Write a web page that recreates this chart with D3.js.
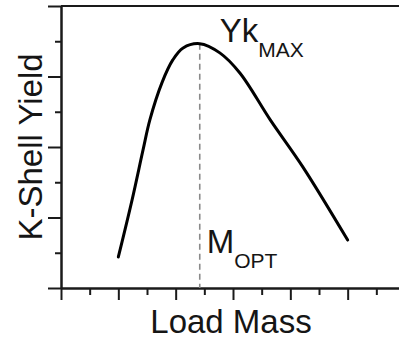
<!DOCTYPE html>
<html>
<head>
<meta charset="utf-8">
<script src="https://cdn.jsdelivr.net/npm/d3@7"></script>
<style>
  html, body { margin: 0; padding: 0; background: #fff; }
  svg { display: block; }
  text { font-family: "Liberation Sans", Arial, sans-serif; fill: #151515; }
</style>
</head>
<body>
<div id="chart"></div>
<script>
  // values (arbitrary units)
  var massValues  = [1.0, 1.24, 1.43, 1.55, 1.76, 1.95, 2.13, 2.42, 2.77, 3.12, 3.65, 4.22, 5.0];
  var yieldValues = [0.88, 2.50, 3.91, 4.77, 5.82, 6.47, 6.81, 6.93, 6.67, 6.10, 4.77, 3.43, 1.36];
  var xMajorTicks = [0, 1, 2, 3, 4, 5, 6];
  var xMinorTicks = [0.5, 1.5, 2.5, 3.5, 4.5, 5.5];
  var yMajorTicks = [0, 2, 4, 6, 8];
  var yMinorTicks = [1, 3, 5, 7];
  var mOpt = 2.42, ykMax = 6.93;

  var width = 399, height = 340;
  var x = d3.scaleLinear().domain([0, 6]).range([61, 405]);
  var y = d3.scaleLinear().domain([0, 8]).range([288, 6]);

  var svg = d3.select('#chart').append('svg')
    .attr('width', width).attr('height', height);

  function styleAxis(g, w) {
    g.selectAll('path, line').attr('stroke', '#1a1a1a').attr('stroke-width', w);
    g.select('.domain').attr('stroke-width', 2);
  }

  // minor ticks first, then majors with the domain line
  svg.append('g').attr('transform', 'translate(0,' + y(0) + ')')
    .call(d3.axisBottom(x).tickValues(xMinorTicks).tickSize(7).tickSizeOuter(0).tickFormat(''))
    .call(styleAxis, 2);
  svg.append('g').attr('transform', 'translate(0,' + y(0) + ')')
    .call(d3.axisBottom(x).tickValues(xMajorTicks).tickSize(12).tickSizeOuter(0).tickFormat(''))
    .call(styleAxis, 2);
  svg.append('g').attr('transform', 'translate(' + x(0) + ',0)')
    .call(d3.axisLeft(y).tickValues(yMinorTicks).tickSize(6).tickSizeOuter(0).tickFormat(''))
    .call(styleAxis, 2);
  svg.append('g').attr('transform', 'translate(' + x(0) + ',0)')
    .call(d3.axisLeft(y).tickValues(yMajorTicks).tickSize(13).tickSizeOuter(0).tickFormat(''))
    .call(styleAxis, 2);

  // top border
  svg.append('line')
    .attr('x1', x(0)).attr('x2', x(6))
    .attr('y1', y(8)).attr('y2', y(8))
    .attr('stroke', '#1a1a1a').attr('stroke-width', 2);

  // dashed marker at optimum
  svg.append('line')
    .attr('x1', x(mOpt)).attr('x2', x(mOpt))
    .attr('y1', y(ykMax)).attr('y2', y(0))
    .attr('stroke', '#8a8a8a').attr('stroke-width', 1.6)
    .attr('stroke-dasharray', '6,4');

  var pts = massValues.map(function(m, i) { return [m, yieldValues[i]]; });
  var line = d3.line()
    .x(function(d) { return x(d[0]); })
    .y(function(d) { return y(d[1]); })
    .curve(d3.curveCatmullRom.alpha(0.5));

  svg.append('path').datum(pts)
    .attr('d', line)
    .attr('fill', 'none')
    .attr('stroke', '#000')
    .attr('stroke-width', 3)
    .attr('stroke-linecap', 'round');

  // annotations
  var yk = svg.append('text')
    .attr('x', x(mOpt) + 20).attr('y', y(ykMax) - 2)
    .style('font-size', '33px');
  yk.append('tspan').text('Yk');
  yk.append('tspan').attr('dy', 15).style('font-size', '21px').text('MAX');

  var mo = svg.append('text')
    .attr('x', x(mOpt) + 7).attr('y', 253)
    .style('font-size', '33px');
  mo.append('tspan').text('M');
  mo.append('tspan').attr('dy', 15).style('font-size', '21px').text('OPT');

  svg.append('text')
    .attr('x', 231).attr('y', 333)
    .attr('text-anchor', 'middle')
    .style('font-size', '33px')
    .text('Load Mass');

  svg.append('text')
    .attr('transform', 'translate(42,147) rotate(-90)')
    .attr('text-anchor', 'middle')
    .style('font-size', '33px')
    .text('K-Shell Yield');
</script>
</body>
</html>
